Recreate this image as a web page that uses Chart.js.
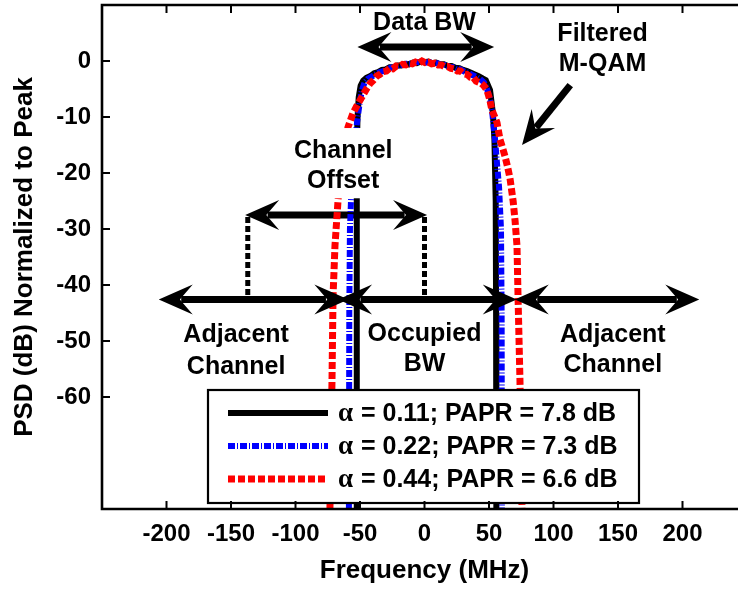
<!DOCTYPE html>
<html>
<head>
<meta charset="utf-8">
<title>Filtered M-QAM PSD</title>
<script src="https://cdn.jsdelivr.net/npm/chart.js@4.4.1/dist/chart.umd.min.js"></script>
<style>
  html, body { margin: 0; padding: 0; background: #fff; overflow: hidden; }
  #wrap { width: 755px; height: 590px; }
</style>
</head>
<body>
<div id="wrap"><canvas id="psdChart"></canvas></div>
<script>
// PSD traces (MHz, dB normalised to peak)
const blackFreq = [-52.8, -52.6, -52.4, -52.0, -51.0, -49.5, -47.5, -45, -42, -39,
  -36, -33, -30, -27, -24, -21, -18, -15, -12, -9,
  -6, -3, 0, 3, 6, 9, 12, 15, 18, 21,
  24, 27, 30, 33, 36, 39, 42, 45, 47.5, 50.8,
  53, 54.2, 55.2, 55.5, 55.7];
const blackPsd = [-80, -40, -18, -10.5, -6.5, -4.4, -3.5, -3.0, -2.7, -2.2,
  -2.0, -1.6, -1.5, -1.1, -1.1, -0.8, -0.8, -0.5, -0.6, -0.3,
  -0.4, -0.1, -0.2, -0.1, -0.4, -0.3, -0.6, -0.6, -0.9, -0.9,
  -1.2, -1.3, -1.6, -1.8, -2.1, -2.4, -2.7, -3.1, -3.4, -5.2,
  -9.3, -14, -25, -45, -80];

const blueFreq = [-58.6, -58.3, -57.8, -56.5, -54.5, -52.3, -50.3, -48.5, -46.5, -44,
  -41, -38, -35, -32, -29, -26, -23, -20, -17, -14,
  -11, -8, -5, -2, 1, 4, 7, 10, 13, 16,
  19, 22, 25, 28, 31, 34, 37, 40, 43, 46,
  48.5, 50.5, 52.3, 54.7, 56, 57.8, 59.3, 59.8, 60];
const bluePsd = [-80, -45, -30, -22, -16, -11, -7.6, -5.2, -3.9, -3.2,
  -2.8, -2.4, -2.0, -1.8, -1.5, -1.2, -1.1, -0.8, -0.7, -0.5,
  -0.5, -0.3, -0.2, -0.1, -0.3, -0.2, -0.4, -0.4, -0.7, -0.7,
  -1.0, -1.1, -1.4, -1.5, -1.9, -2.1, -2.5, -2.8, -3.2, -3.8,
  -5.0, -6.6, -8.8, -14, -17.7, -22.5, -30, -45, -80];

const redFreq = [-73.3, -71.7, -70.9, -69.4, -67, -65.5, -63, -59.3, -55.4, -52,
  -48.4, -45, -42.2, -39.5, -37, -34.5, -32, -29.5, -27, -24.5,
  -22, -19.5, -17, -14.5, -12, -9.5, -7, -4.5, -2, 0.5,
  3, 5.5, 8, 10.5, 13, 15.5, 18, 20.5, 23, 25.5,
  28, 30.5, 33, 35.5, 38, 40, 42, 44, 46, 48.4,
  50.5, 52.3, 54.5, 56.2, 58.5, 60.5, 62.4, 64.5, 66.3, 68.7,
  70.2, 71.7, 72.5, 74, 75.6];
const redPsd = [-80, -57, -42, -33, -24.8, -21, -17, -11.8, -9.3, -7.8,
  -6.4, -5.0, -4.0, -3.4, -2.7, -2.4, -1.9, -1.8, -1.3, -1.4,
  -0.9, -1.0, -0.6, -0.7, -0.4, -0.5, -0.2, -0.4, 0, -0.3,
  -0.2, -0.5, -0.4, -0.7, -0.7, -1.0, -1.0, -1.3, -1.4, -1.8,
  -1.8, -2.3, -2.4, -2.9, -3.0, -3.6, -3.8, -4.0, -4.4, -5.2,
  -6.8, -8.8, -10.0, -11.0, -14, -15.5, -17, -19, -21, -25,
  -28.5, -33, -42, -57, -80];

const seriesLabels = ['α = 0.11; PAPR = 7.8 dB', 'α = 0.22; PAPR = 7.3 dB', 'α = 0.44; PAPR = 6.6 dB'];
const xTickValues = [-200, -150, -100, -50, 0, 50, 100, 150, 200];
const yTickValues = [0, -10, -20, -30, -40, -50, -60];

const SANS = '"Liberation Sans", Arial, Helvetica, sans-serif';
const SERIF = '"Liberation Serif", "Times New Roman", serif';

// annotation geometry in axis units (MHz, dB)
const bandLevel = -42.6;
const bandArrows = [[-206, -59], [-67, 71.5], [70, 213]];
const dataBwArrow = [-52, 54, 2.5];
const offsetArrow = [-139, 2, -27.5];
const offsetDrops = [-137, 0];
const qamArrow = [[113, -4.3], [75.6, -15]];
const notes = [
  { lines: ['Data BW'], x: 0, y: [7] },
  { lines: ['Filtered', 'M-QAM'], x: 138, y: [5.0, -0.4] },
  { lines: ['Occupied', 'BW'], x: 0, y: [-48.6, -53.9] },
  { lines: ['Adjacent', 'Channel'], x: -146, y: [-48.7, -54.4] },
  { lines: ['Adjacent', 'Channel'], x: 146, y: [-48.7, -54.1] }
];
const offsetNote = { lines: ['Channel', 'Offset'], x: -63, y: [-15.9, -21.3] };

function pts(fx, fy) {
  return fx.map((f, i) => ({ x: f, y: fy[i] }));
}

function px(chart, x, y) {
  return [chart.scales.x.getPixelForValue(x), chart.scales.y.getPixelForValue(y)];
}

const HEAD_LEN = 34, HEAD_HALF = 15, NOTCH = 0.62;

function head(ctx, tip, ang) {
  const c = Math.cos(ang), s = Math.sin(ang);
  const at = (a, b) => [tip[0] - a * c - b * s, tip[1] - a * s + b * c];
  const p1 = at(HEAD_LEN, -HEAD_HALF), p2 = at(HEAD_LEN * NOTCH, 0), p3 = at(HEAD_LEN, HEAD_HALF);
  ctx.beginPath();
  ctx.moveTo(tip[0], tip[1]);
  ctx.lineTo(p1[0], p1[1]);
  ctx.lineTo(p2[0], p2[1]);
  ctx.lineTo(p3[0], p3[1]);
  ctx.closePath();
  ctx.fill();
}

function arrow(ctx, from, to, both) {
  const ang = Math.atan2(to[1] - from[1], to[0] - from[0]);
  const c = Math.cos(ang), s = Math.sin(ang);
  const back = HEAD_LEN * 0.66;
  const start = both ? [from[0] + back * c, from[1] + back * s] : from;
  const end = [to[0] - back * c, to[1] - back * s];
  ctx.lineWidth = 7;
  ctx.beginPath();
  ctx.moveTo(start[0], start[1]);
  ctx.lineTo(end[0], end[1]);
  ctx.stroke();
  head(ctx, to, ang);
  if (both) head(ctx, from, ang + Math.PI);
}

function drawNote(chart, ctx, note, boxed) {
  ctx.font = 'bold 25px ' + SANS;
  ctx.textAlign = 'center';
  ctx.textBaseline = 'middle';
  const cx = chart.scales.x.getPixelForValue(note.x);
  const ys = note.y.map(v => chart.scales.y.getPixelForValue(v));
  if (boxed) {
    const w = Math.max(...note.lines.map(t => ctx.measureText(t).width));
    ctx.fillStyle = '#fff';
    ctx.fillRect(cx - w / 2 - 6, ys[0] - 22, w + 12, ys[ys.length - 1] - ys[0] + 40);
  }
  ctx.fillStyle = '#000';
  note.lines.forEach((t, i) => ctx.fillText(t, cx, ys[i] + 1));
}

const markup = {
  id: 'markup',
  beforeDatasetsDraw(chart) {
    const ctx = chart.ctx;
    ctx.save();
    ctx.fillStyle = '#000';
    ctx.strokeStyle = '#000';
    // channel offset arrow with dashed drop lines
    arrow(ctx, px(chart, offsetArrow[0], offsetArrow[2]), px(chart, offsetArrow[1], offsetArrow[2]), true);
    ctx.lineWidth = 5;
    ctx.setLineDash([6, 3]);
    offsetDrops.forEach(f => {
      const a = px(chart, f, offsetArrow[2]);
      const b = px(chart, f, bandLevel);
      ctx.beginPath();
      ctx.moveTo(a[0], a[1] + 2);
      ctx.lineTo(b[0], b[1]);
      ctx.stroke();
    });
    ctx.restore();
  },
  afterDatasetsDraw(chart) {
    const ctx = chart.ctx;
    ctx.save();
    ctx.fillStyle = '#000';
    ctx.strokeStyle = '#000';
    bandArrows.forEach(([a, b]) => arrow(ctx, px(chart, a, bandLevel), px(chart, b, bandLevel), true));
    arrow(ctx, px(chart, dataBwArrow[0], dataBwArrow[2]), px(chart, dataBwArrow[1], dataBwArrow[2]), true);
    arrow(ctx, px(chart, qamArrow[0][0], qamArrow[0][1]), px(chart, qamArrow[1][0], qamArrow[1][1]), false);
    notes.forEach(n => drawNote(chart, ctx, n, false));
    drawNote(chart, ctx, offsetNote, true);

    // legend
    const box = { l: 208, t: 390, r: 639, b: 503 };
    ctx.fillStyle = '#fff';
    ctx.fillRect(box.l, box.t, box.r - box.l, box.b - box.t);
    ctx.lineWidth = 2.2;
    ctx.strokeStyle = '#000';
    ctx.strokeRect(box.l, box.t, box.r - box.l, box.b - box.t);
    chart.data.datasets.forEach((ds, i) => {
      const y = 413 + i * 33;
      ctx.strokeStyle = ds.borderColor;
      ctx.lineWidth = ds.borderWidth;
      ctx.setLineDash(ds.borderDash || []);
      ctx.beginPath();
      ctx.moveTo(228, y);
      ctx.lineTo(328, y);
      ctx.stroke();
      ctx.setLineDash([]);
      ctx.fillStyle = '#000';
      ctx.textAlign = 'left';
      ctx.textBaseline = 'middle';
      ctx.font = 'bold 27px ' + SERIF;
      ctx.fillText(ds.label.charAt(0), 338, y + 1);
      ctx.font = 'bold 25px ' + SANS;
      ctx.fillText(ds.label.slice(1), 354, y + 1);
    });
    ctx.restore();
  },
  afterDraw(chart) {
    // boxed axes with inward ticks
    const ctx = chart.ctx;
    const { left, right, top, bottom } = chart.chartArea;
    ctx.save();
    ctx.strokeStyle = '#000';
    ctx.lineWidth = 2.6;
    ctx.beginPath();
    ctx.moveTo(right + 10, top);
    ctx.lineTo(left, top);
    ctx.lineTo(left, bottom);
    ctx.lineTo(right + 10, bottom);
    ctx.stroke();
    ctx.lineWidth = 2;
    xTickValues.forEach(v => {
      const x = chart.scales.x.getPixelForValue(v);
      ctx.beginPath();
      ctx.moveTo(x, top); ctx.lineTo(x, top + 8);
      ctx.moveTo(x, bottom); ctx.lineTo(x, bottom - 8);
      ctx.stroke();
    });
    yTickValues.forEach(v => {
      const y = chart.scales.y.getPixelForValue(v);
      ctx.beginPath();
      ctx.moveTo(left, y); ctx.lineTo(left + 8, y);
      ctx.stroke();
    });
    ctx.restore();
  }
};

Chart.defaults.font.family = SANS;
Chart.defaults.color = '#000';

new Chart(document.getElementById('psdChart'), {
  type: 'line',
  data: {
    datasets: [
      { label: seriesLabels[0], data: pts(blackFreq, blackPsd), borderColor: '#000000', borderWidth: 6, order: 3 },
      { label: seriesLabels[1], data: pts(blueFreq, bluePsd), borderColor: '#0000ff', borderWidth: 6, borderDash: [7, 2, 1, 2], order: 2 },
      { label: seriesLabels[2], data: pts(redFreq, redPsd), borderColor: '#ff0000', borderWidth: 7, borderDash: [7, 3], order: 1 }
    ]
  },
  options: {
    responsive: true,
    maintainAspectRatio: false,
    animation: false,
    devicePixelRatio: 1,
    layout: { autoPadding: false, padding: { top: 5, right: 8, bottom: 0, left: 0 } },
    elements: { point: { radius: 0 }, line: { tension: 0, fill: false } },
    plugins: { legend: { display: false }, tooltip: { enabled: false } },
    scales: {
      x: {
        type: 'linear',
        min: -250,
        max: 250,
        grid: { display: false, drawTicks: false },
        border: { display: false },
        ticks: {
          stepSize: 50,
          padding: 11,
          font: { size: 24, weight: 'bold' },
          maxRotation: 0,
          callback: v => (xTickValues.includes(v) ? String(v) : null)
        },
        title: { display: true, text: 'Frequency (MHz)', font: { size: 26, weight: 'bold' }, padding: { top: 0, bottom: 4 } },
        afterFit(scale) {
          scale.height = 81;
          scale.paddingLeft = 0;
          scale.paddingRight = 0;
        }
      },
      y: {
        type: 'linear',
        min: -80,
        max: 10,
        grid: { display: false, drawTicks: false },
        border: { display: false },
        ticks: {
          stepSize: 10,
          padding: 11,
          font: { size: 24, weight: 'bold' },
          callback: v => (yTickValues.includes(v) ? String(v) : null)
        },
        title: { display: true, text: 'PSD (dB) Normalized to Peak', font: { size: 26, weight: 'bold' }, padding: { top: 9, bottom: 0 } },
        afterFit(scale) {
          scale.width = 102;
          scale.paddingTop = 0;
          scale.paddingBottom = 0;
        }
      }
    }
  },
  plugins: [markup]
});
</script>
</body>
</html>
